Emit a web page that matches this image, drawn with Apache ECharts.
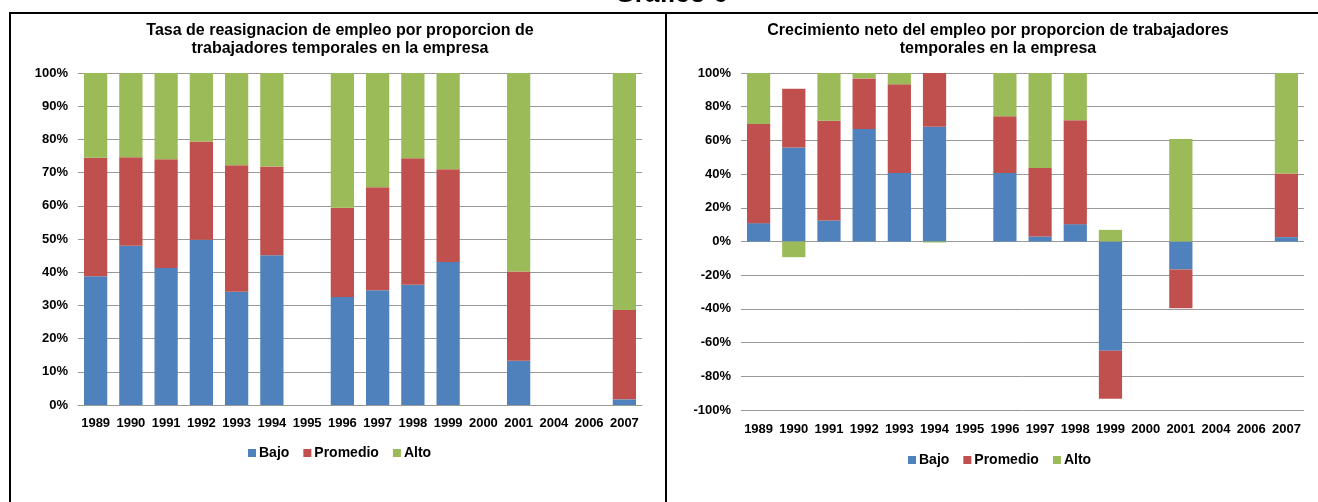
<!DOCTYPE html>
<html>
<head>
<meta charset="utf-8">
<script src="https://cdn.jsdelivr.net/npm/echarts@6/dist/echarts.min.js"></script>
<style>
  html, body { margin: 0; padding: 0; background: #fff; }
  #main { width: 1318px; height: 502px; }
</style>
</head>
<body>
<div id="main"></div>
<script>
// years on both x axes
const years = ["1989", "1990", "1991", "1992", "1993", "1994", "1995", "1996",
    "1997", "1998", "1999", "2000", "2001", "2004", "2006", "2007"]

// left chart: tasa de reasignacion (% of total, stacked to 100)
const reasigBajo = [38.8, 48.0, 41.3, 49.8, 34.1, 45.1, null, 32.5, 34.6, 36.2, 43.1, null, 13.3, null, null, 1.7]
const reasigPromedio = [35.7, 26.6, 32.7, 29.6, 38.1, 26.7, null, 26.9, 31.0, 38.1, 27.9, null, 26.9, null, null, 26.9]
const reasigAlto = [25.5, 25.4, 26.0, 20.6, 27.8, 28.2, null, 40.6, 34.4, 25.7, 29.0, null, 59.8, null, null, 71.4]

// right chart: crecimiento neto (% contribution, can be negative)
const crecBajo = [10.9, 55.8, 12.5, 66.7, 40.6, 68.1, null, 40.6, 3.0, 10.3, -64.8, null, -16.6, null, null, 2.6]
const crecPromedio = [58.8, 34.9, 59.2, 30.1, 52.7, 31.9, null, 33.7, 40.6, 61.6, -28.5, null, -23.0, null, null, 37.8]
const crecAlto = [30.3, -9.3, 28.3, 3.2, 6.7, -0.6, null, 25.7, 56.4, 28.1, 6.9, null, 60.8, null, null, 59.6]

const seriesNames = ["Bajo", "Promedio", "Alto"]
const colors = ["#4F81BD", "#C0504D", "#9BBB59"]

const FONT = "'Liberation Sans', Arial, sans-serif"

function barSeries(name, data, idx, stack) {
    return {
        name: name,
        type: "bar",
        stack: stack,
        xAxisIndex: idx,
        yAxisIndex: idx,
        barCategoryGap: "34%",
        data: data,
        itemStyle: { color: colors[seriesNames.indexOf(name)] }
    }
}

function xAxis(gridIndex, margin) {
    return {
        type: "category",
        gridIndex: gridIndex,
        data: years,
        axisLine: { onZero: false, show: gridIndex === 0, lineStyle: { color: "#999" } },
        axisTick: { show: false },
        axisLabel: { color: "#000", fontFamily: FONT, fontWeight: "bold", fontSize: 13, margin: margin, interval: 0 }
    }
}

function yAxis(gridIndex, min, max, interval) {
    return {
        type: "value",
        gridIndex: gridIndex,
        min: min,
        max: max,
        interval: interval,
        axisLine: { show: false },
        axisTick: { show: false },
        splitLine: { lineStyle: { color: "#999", width: 1 } },
        axisLabel: {
            color: "#000", fontFamily: FONT, fontWeight: "bold", fontSize: 13, margin: 10,
            formatter: "{value}%"
        }
    }
}

function legend(center, top) {
    return {
        data: seriesNames,
        left: center,
        top: top,
        icon: "rect",
        itemWidth: 8,
        itemHeight: 8,
        itemGap: 14,
        textStyle: { color: "#000", fontFamily: FONT, fontWeight: "bold", fontSize: 14, padding: [0, 0, 0, -2] }
    }
}

const chart = echarts.init(document.getElementById("main"))

chart.setOption({
    animation: false,
    textStyle: { fontFamily: FONT },
    title: [
        {
            text: "Tasa de reasignacion de empleo por proporcion de\ntrabajadores temporales en la empresa",
            left: 340, top: 22, textAlign: "center", padding: 0,
            textStyle: { fontFamily: FONT, fontWeight: "bold", fontSize: 16, lineHeight: 18, color: "#000" }
        },
        {
            text: "Crecimiento neto del empleo por proporcion de trabajadores\ntemporales en la empresa",
            left: 998, top: 22, textAlign: "center", padding: 0,
            textStyle: { fontFamily: FONT, fontWeight: "bold", fontSize: 16, lineHeight: 18, color: "#000" }
        }
    ],
    legend: [legend(243, 441), legend(903, 448)],
    grid: [
        { left: 78, right: 676, top: 73, height: 332 },
        { left: 741, right: 14, top: 73, height: 337 }
    ],
    xAxis: [xAxis(0, 12), xAxis(1, 13)],
    yAxis: [yAxis(0, 0, 100, 10), yAxis(1, -100, 100, 20)],
    series: [
        barSeries("Bajo", reasigBajo, 0, "reasig"),
        barSeries("Promedio", reasigPromedio, 0, "reasig"),
        barSeries("Alto", reasigAlto, 0, "reasig"),
        barSeries("Bajo", crecBajo, 1, "crec"),
        barSeries("Promedio", crecPromedio, 1, "crec"),
        barSeries("Alto", crecAlto, 1, "crec")
    ],
    graphic: [
        {
            type: "text", x: 671, y: 8,
            style: { text: "Gráfico 6", fill: "#000", font: "bold 26px " + FONT, align: "center", verticalAlign: "bottom" }
        },
        { type: "line", shape: { x1: 9, y1: 13, x2: 1318, y2: 13 }, style: { stroke: "#000", lineWidth: 2 } },
        { type: "line", shape: { x1: 10, y1: 12, x2: 10, y2: 502 }, style: { stroke: "#000", lineWidth: 2 } },
        { type: "line", shape: { x1: 666, y1: 12, x2: 666, y2: 502 }, style: { stroke: "#000", lineWidth: 2 } }
    ]
})
</script>
</body>
</html>
